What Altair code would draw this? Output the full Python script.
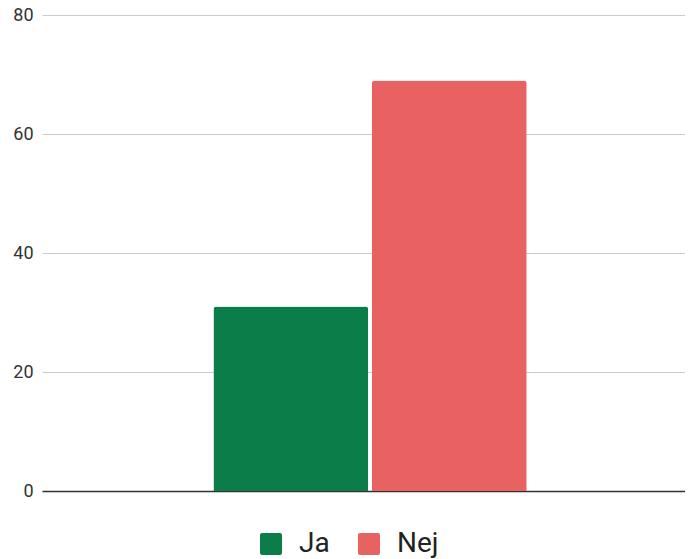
import altair as alt
import pandas as pd

series = ["Ja", "Nej"]
values = [31, 69]
colors = ["#0a7d48", "#e86262"]
y_ticks = [0, 20, 40, 60, 80]

df = pd.DataFrame({"group": ["", ""], "series": series, "value": values})

rounded_square = (
    "M-0.82,-1L0.82,-1Q1,-1 1,-0.82L1,0.82Q1,1 0.82,1L-0.82,1"
    "Q-1,1 -1,0.82L-1,-0.82Q-1,-1 -0.82,-1Z"
)

chart = alt.Chart(df).mark_bar(
    cornerRadiusTopLeft=3, cornerRadiusTopRight=3
).encode(
    x=alt.X("group:N",
            scale=alt.Scale(paddingInner=0, paddingOuter=0.526, align=0.52),
            axis=alt.Axis(title=None, labels=False, ticks=False, domain=True,
                          domainColor="#333333", domainWidth=1.5, grid=False)),
    xOffset=alt.XOffset("series:N", sort=series,
                        scale=alt.Scale(paddingInner=0.022, paddingOuter=0)),
    y=alt.Y("value:Q", scale=alt.Scale(domain=[0, 80], nice=False),
            axis=alt.Axis(title=None, values=y_ticks, ticks=False, domain=False,
                          labelFont="Roboto", labelFontSize=18, labelColor="#333333",
                          labelPadding=9, gridColor="#cccccc")),
    color=alt.Color("series:N", sort=series,
                    scale=alt.Scale(domain=series, range=colors),
                    legend=alt.Legend(title=None, orient="none", direction="horizontal",
                                      legendX=215, legendY=515,
                                      symbolType=rounded_square, symbolSize=484,
                                      symbolStrokeWidth=0, symbolOpacity=1,
                                      labelFont="Roboto", labelFontSize=28,
                                      labelColor="#222222", labelOffset=14,
                                      columnPadding=25, padding=0)),
).properties(
    width=643, height=476,
    autosize=alt.AutoSizeParams(type="none"),
    padding={"left": 34, "top": 7, "right": 0, "bottom": 68},
).configure_view(stroke=None)

chart.save("out.html", embed_options={"renderer": "svg", "actions": False})
